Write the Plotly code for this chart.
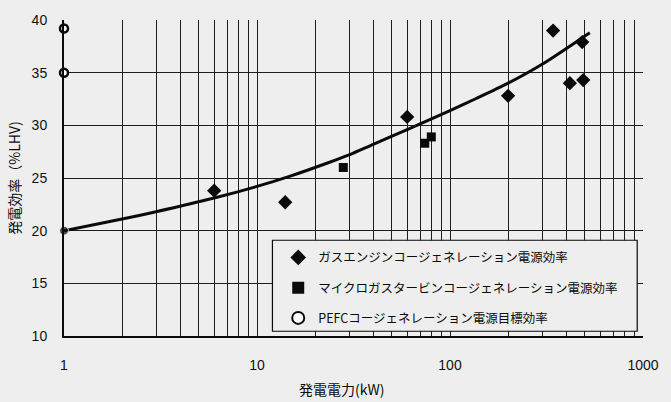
import plotly.graph_objects as go

# Gas-engine cogeneration efficiency (kW, %LHV)
gas_kw = [6, 14, 60, 200, 342, 418, 490, 484]
gas_eff = [23.8, 22.7, 30.8, 32.8, 39.0, 34.0, 34.3, 37.9]

# Micro gas turbine cogeneration efficiency
mgt_kw = [28, 74, 80]
mgt_eff = [26.0, 28.3, 28.9]

# PEFC cogeneration target efficiency
pefc_kw = [1, 1]
pefc_eff = [39.2, 35.0]

# Trend curve through the engine data
trend_kw = [1, 2, 3, 6, 10, 15, 23, 30, 40, 60, 100, 135, 200, 300, 530]
trend_eff = [20.0, 21.1, 21.8, 23.1, 24.2, 25.2, 26.4, 27.2, 28.2, 29.6, 31.4,
             32.5, 34.0, 35.8, 38.8]

x_tickvals = [m * 10 ** e for e in range(3) for m in range(1, 10)] + [1000]
x_ticktext = [str(v) if v in (1, 10, 100, 1000) else "" for v in x_tickvals]
y_tickvals = [10, 15, 20, 25, 30, 35, 40]

legend_names = [
    "ガスエンジンコージェネレーション電源効率",
    "マイクロガスタービンコージェネレーション電源効率",
    "PEFCコージェネレーション電源目標効率",
]

BG = "#eeeeee"
INK = "#0a0a0a"
GRID = "#1e1e1e"
JP = "Noto Sans CJK JP"

fig = go.Figure()

fig.add_trace(go.Scatter(
    x=trend_kw, y=trend_eff, mode="lines+markers",
    line=dict(color=INK, width=3, shape="spline", smoothing=0.8),
    marker=dict(size=[9] + [0] * (len(trend_kw) - 1), color=INK, symbol="circle"),
    showlegend=False, hoverinfo="skip", cliponaxis=False,
))

fig.add_trace(go.Scatter(
    x=gas_kw, y=gas_eff, mode="markers", name=legend_names[0],
    marker=dict(symbol="diamond", size=11, color=INK),
    legendgroup="g1", cliponaxis=False,
))
fig.add_trace(go.Scatter(
    x=mgt_kw, y=mgt_eff, mode="markers", name=legend_names[1],
    marker=dict(symbol="square", size=9, color=INK),
    legendgroup="g2", cliponaxis=False,
))
fig.add_trace(go.Scatter(
    x=pefc_kw, y=pefc_eff, mode="markers", name=legend_names[2],
    marker=dict(symbol="circle", size=8, color="#ffffff", line=dict(width=2.5, color=INK)),
    legendgroup="g3", cliponaxis=False,
))

# Legend frame
fig.add_shape(type="rect", xref="paper", yref="paper",
              x0=0.36, x1=0.990, y0=0.015, y1=0.303,
              line=dict(color=INK, width=1.2), fillcolor=BG, layer="above")

# X-axis title
fig.add_annotation(text="発電電力(kW)", xref="paper", yref="paper",
                   x=0.48, y=-0.167, xanchor="center", yanchor="middle",
                   showarrow=False, font=dict(family=JP, size=14, color=INK))

fig.update_layout(
    width=671, height=402,
    margin=dict(l=64, r=21, t=13, b=66),
    paper_bgcolor=BG, plot_bgcolor=BG,
    font=dict(family="Liberation Sans, Arial, sans-serif", size=14, color=INK),
    legend=dict(
        x=0.370, y=0.295, xanchor="left", yanchor="top",
        bgcolor="rgba(0,0,0,0)", borderwidth=0,
        font=dict(family=JP, size=12.5, color=INK),
        tracegroupgap=11, itemsizing="constant", itemwidth=30,
    ),
    xaxis=dict(
        type="log", range=[0, 3],
        tickvals=x_tickvals, ticktext=x_ticktext,
        showgrid=True, gridcolor=GRID, gridwidth=1,
        showline=True, linecolor=INK, linewidth=2,
        ticks="", ticklabelstandoff=15,
        tickfont=dict(size=14, color="#111111"),
        zeroline=False,
    ),
    yaxis=dict(
        range=[10, 40], tickvals=y_tickvals,
        showgrid=True, gridcolor=GRID, gridwidth=1,
        showline=True, linecolor=INK, linewidth=2,
        ticks="", ticklabelstandoff=12,
        tickfont=dict(size=14, color="#111111"),
        title=dict(text="発電効率（%LHV)", font=dict(family=JP, size=14, color=INK), standoff=8),
        zeroline=False,
    ),
)

fig.write_html("out.html")
